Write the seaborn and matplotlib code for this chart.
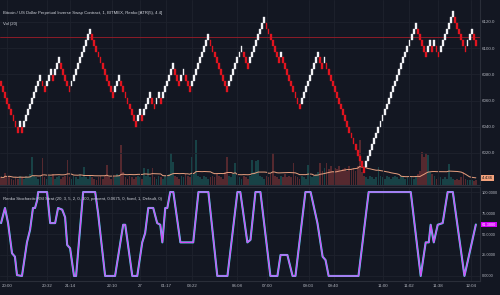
import numpy as np
import pandas as pd
import matplotlib
matplotlib.use("Agg")
import matplotlib.pyplot as plt
import matplotlib.transforms as mtransforms
import seaborn as sns

# ---------------- data ----------------
box_size = 4.4
start_price = 6075.2
# signed renko run lengths (+ up bricks, - down bricks)
run_lengths = [-9, 1, -1, 9, -2, 3, -1, 3, -5, 10, -11, 3, -8, 2, -1, 4, -2, 2, -1, 6,
               -3, 2, -3, 9, -9, 7, -3, 8, -7, 1, -9, 9, -2, 1, -19, 25, -5, 2, -1, 1,
               -2, 7, -6, 3, -2]

volume = [5, 4, 7.6, 5, 6, 4, 3, 5, 4, 6,
          5, 4, 6, 5, 7, 17.7, 6, 5, 4, 6,
          17, 5, 4, 6, 5, 7, 4, 5, 6, 4,
          5, 6, 15.8, 5, 4, 6, 5, 4, 7, 5,
          11.4, 5, 4, 6, 5, 4, 3, 5, 6, 4,
          6, 12.7, 5, 4, 6, 5, 7, 6, 25, 8,
          5, 4, 6, 5, 4, 5, 6, 5, 4, 11,
          6, 10, 5, 11, 5, 4, 6, 5, 4, 6,
          5, 7, 20, 14.6, 6, 5, 4, 6, 5, 7,
          6, 5, 17.7, 7, 28.5, 6, 5, 4, 6, 5,
          4, 5, 6, 5, 7, 6, 5, 4, 8, 17.7,
          6, 5, 7, 14, 6, 5, 4, 6, 5, 4,
          6, 16, 8, 15, 16, 6, 5, 4, 6, 5,
          7, 20, 6, 5, 4, 6, 5, 7, 5, 6,
          5, 14, 6, 5, 4, 6, 5, 4, 12.7, 6,
          5, 6, 7, 8, 14, 9, 11, 14, 10, 12,
          9, 11, 10, 12, 9, 10, 11, 9, 12, 10,
          11, 9, 12, 28.5, 8, 6, 5, 4, 6, 5,
          4, 5, 11.4, 6, 5, 4, 6, 5, 4, 5,
          6, 5, 4, 6, 5, 4, 5, 6, 5, 4,
          6, 7, 9, 21, 18, 20, 19, 8, 7, 6,
          4, 5, 5, 4, 5, 4, 13, 5, 4, 3,
          4, 3, 5, 8, 4, 3, 3, 3, 2.5, 3]
vol_ma_label = "4.436"

stoch_idx = [0, 1.9, 3.4, 4.3, 5.3, 6.7, 7.7, 10.1, 12.5, 14, 15.4, 16.4, 17.4, 17.9, 22.2,
             23.7, 26.1, 27.5, 29.5, 30.9, 31.9, 33.3, 35.2, 36.2, 39.6, 45.4, 46.8, 50.2,
             55, 58.9, 59.9, 63.3, 65.7, 68.1, 69.5, 71, 73.4, 75.3, 76.8, 77.8, 79.2, 80.2,
             81.6, 83.1, 86.5, 92.7, 95.2, 100, 104.3, 109.2, 114, 115.4, 118.8, 120.3,
             122.7, 125.1, 129.9, 133.3, 134.8, 138.1, 140.6, 142, 146.8, 149.3, 152.6,
             155.1, 156.5, 158, 172.4, 177.3, 197.6, 202.4, 204.8, 206.3, 207.2, 208.7,
             210.6, 213, 215.4, 217.9, 223.5, 229]
stoch_val = [63, 81, 63, 46, 27, 23, 1, 0, 40, 55, 81, 81, 90, 100, 100, 63, 63, 81, 79, 70,
             37, 33, 0, 0, 100, 100, 75, 0, 0, 61, 61, 0, 0, 40, 51, 81, 81, 63, 61, 40, 81,
             81, 100, 100, 40, 40, 100, 100, 0, 0, 100, 100, 40, 43, 100, 100, 0, 0, 25, 25,
             0, 0, 100, 100, 63, 23, 19, 0, 0, 100, 100, 0, 40, 40, 61, 40, 61, 63, 100, 100,
             0, 61.3]
stoch_label = "61.3000"

last_price_line = 6108.4
price_ticks = [6020, 6040, 6060, 6080, 6100, 6120]
stoch_ticks = [0, 25, 50, 75, 100]
time_tick_idx = [2.9, 22.2, 33.3, 53.6, 67.1, 79.7, 92.3, 114, 128.5, 148.3, 160.4, 184,
                 196.6, 210.6, 226.6]
time_tick_labels = ["20:00", "20:32", "21:14", "22:10", "27", "01:17", "03:22", "06:08",
                    "07:00", "09:03", "09:40", "11:00", "11:02", "11:38", "12:04"]

title_main = "Bitcoin / US Dollar Perpetual Inverse Swap Contract, 1, BITMEX, Renko [ATR(5), 4.4]"
title_vol = "Vol (20)"
title_stoch = "Renko Stochastic RSI Strat (20, 3, 5, 2, 0, 100, percent, 0.0675, 0, fixed, 1, Default, 0)"

# ---------------- build renko bricks ----------------
opens, closes, dirs = [], [], []
p_open, p_close, p_dir = start_price + box_size, start_price, -1
for r in run_lengths:
    d = 1 if r > 0 else -1
    for _ in range(abs(r)):
        o = p_close if d == p_dir else p_open
        c = o + d * box_size
        opens.append(o); closes.append(c); dirs.append(d)
        p_open, p_close, p_dir = o, c, d
n = len(opens)
df = pd.DataFrame({"idx": np.arange(n), "open": opens, "close": closes, "dir": dirs,
                   "volume": volume[:n]})
df["vol_ma"] = df["volume"].rolling(20, min_periods=1).mean()
stoch_df = pd.DataFrame({"idx": stoch_idx, "val": stoch_val})

# ---------------- style ----------------
BG = "#131722"
GRID = "#1e222d"
TXT = "#b2b5be"
sns.set_theme(style="dark", rc={"axes.facecolor": BG, "figure.facecolor": BG})
plt.rcParams["font.family"] = ["Liberation Sans Narrow", "Liberation Sans", "DejaVu Sans"]
FS = 3.2
FS_T = 3.1

W, H = 500, 295
fig = plt.figure(figsize=(W / 100, H / 100), dpi=100, facecolor=BG)
rect_main = [0, (H - 185) / H, 480 / W, 185 / H]
rect_low = [0, (H - 281) / H, 480 / W, 94 / H]

axv = fig.add_axes(rect_main)
ax = fig.add_axes(rect_main)
ax2 = fig.add_axes(rect_low)
ax.patch.set_visible(False)
axv.set_facecolor(BG)
ax2.set_facecolor(BG)

xlim = (-0.5, 231.0)

# volume
vcol = np.where(df["dir"] > 0, "#26a69a", "#ef5350")
axv.bar(df["idx"], df["volume"], width=0.85, color=vcol, alpha=0.3, linewidth=0)
sns.lineplot(data=df, x="idx", y="vol_ma", ax=axv, color="#e9a07f", linewidth=0.7)
axv.set_xlim(*xlim)
axv.set_ylim(0, 117)
axv.set_xticks([]); axv.set_yticks([])
axv.set_xlabel(""); axv.set_ylabel("")
for s in axv.spines.values():
    s.set_visible(False)

# renko bricks
bcol = np.where(df["dir"] > 0, "#f2f2f5", "#e0141f")
ax.bar(df["idx"], df["close"] - df["open"], bottom=df["open"], width=0.9,
       color=bcol, edgecolor=bcol, linewidth=0.25, zorder=3)
ax.axhline(last_price_line, color="#8c1c28", linewidth=0.7, zorder=2)
ax.set_xlim(*xlim)
ax.set_ylim(5995.6, 6136.6)
ax.set_yticks(price_ticks)
ax.set_yticklabels([f"{v:.1f}" for v in price_ticks])
ax.yaxis.tick_right()
ax.set_xticks(time_tick_idx)
ax.set_xticklabels([])
ax.tick_params(axis="both", length=0, labelsize=FS, colors=TXT, pad=1.5)
ax.grid(True, color=GRID, linewidth=0.6, zorder=0)
ax.set_axisbelow(True)
for k, s in ax.spines.items():
    s.set_visible(k in ("right", "bottom"))
    s.set_color("#2a2e39"); s.set_linewidth(0.8)

# label box for volume MA
trv = mtransforms.blended_transform_factory(axv.transAxes, axv.transData)
axv.text(1.004, float(vol_ma_label), vol_ma_label, transform=trv, ha="left", va="center",
         fontsize=FS, color="#1a1a1a", clip_on=False,
         bbox=dict(boxstyle="square,pad=0.25", fc="#f4a27c", ec="none"))

# stochastic panel
sns.lineplot(data=stoch_df, x="idx", y="val", ax=ax2, color="#4fd8ee", linewidth=1.5)
sns.lineplot(data=stoch_df, x="idx", y="val", ax=ax2, color="#d54cf5", linewidth=0.9)
ax2.set_xlim(*xlim)
ax2.set_ylim(-6, 106)
ax2.set_yticks(stoch_ticks)
ax2.set_yticklabels([f"{v:.4f}" for v in stoch_ticks])
ax2.yaxis.tick_right()
ax2.set_xticks(time_tick_idx)
ax2.set_xticklabels(time_tick_labels)
ax2.set_xlabel(""); ax2.set_ylabel("")
ax2.tick_params(axis="y", length=0, labelsize=2.9, colors=TXT, pad=1.5)
ax2.tick_params(axis="x", length=0, labelsize=FS, colors=TXT, pad=2.5)
ax2.grid(True, color=GRID, linewidth=0.6)
ax2.set_axisbelow(True)
for k, s in ax2.spines.items():
    s.set_visible(k in ("right", "bottom", "top"))
    s.set_color("#2a2e39"); s.set_linewidth(0.8)
tr2 = mtransforms.blended_transform_factory(ax2.transAxes, ax2.transData)
ax2.text(1.004, stoch_val[-1], stoch_label, transform=tr2, ha="left", va="center",
         fontsize=2.9, color="white", clip_on=False,
         bbox=dict(boxstyle="square,pad=0.2", fc="#d500f9", ec="none"))

# titles
fig.text(3 / W, 1 - 13 / H, title_main, fontsize=FS_T, color="#d1d4dc", va="center", ha="left")
fig.text(3 / W, 1 - 24 / H, title_vol, fontsize=FS_T, color="#d1d4dc", va="center", ha="left")
fig.text(3 / W, 1 - 199 / H, title_stoch, fontsize=FS_T, color="#d1d4dc", va="center", ha="left")

fig.savefig("out.png", dpi=100, facecolor=BG)
